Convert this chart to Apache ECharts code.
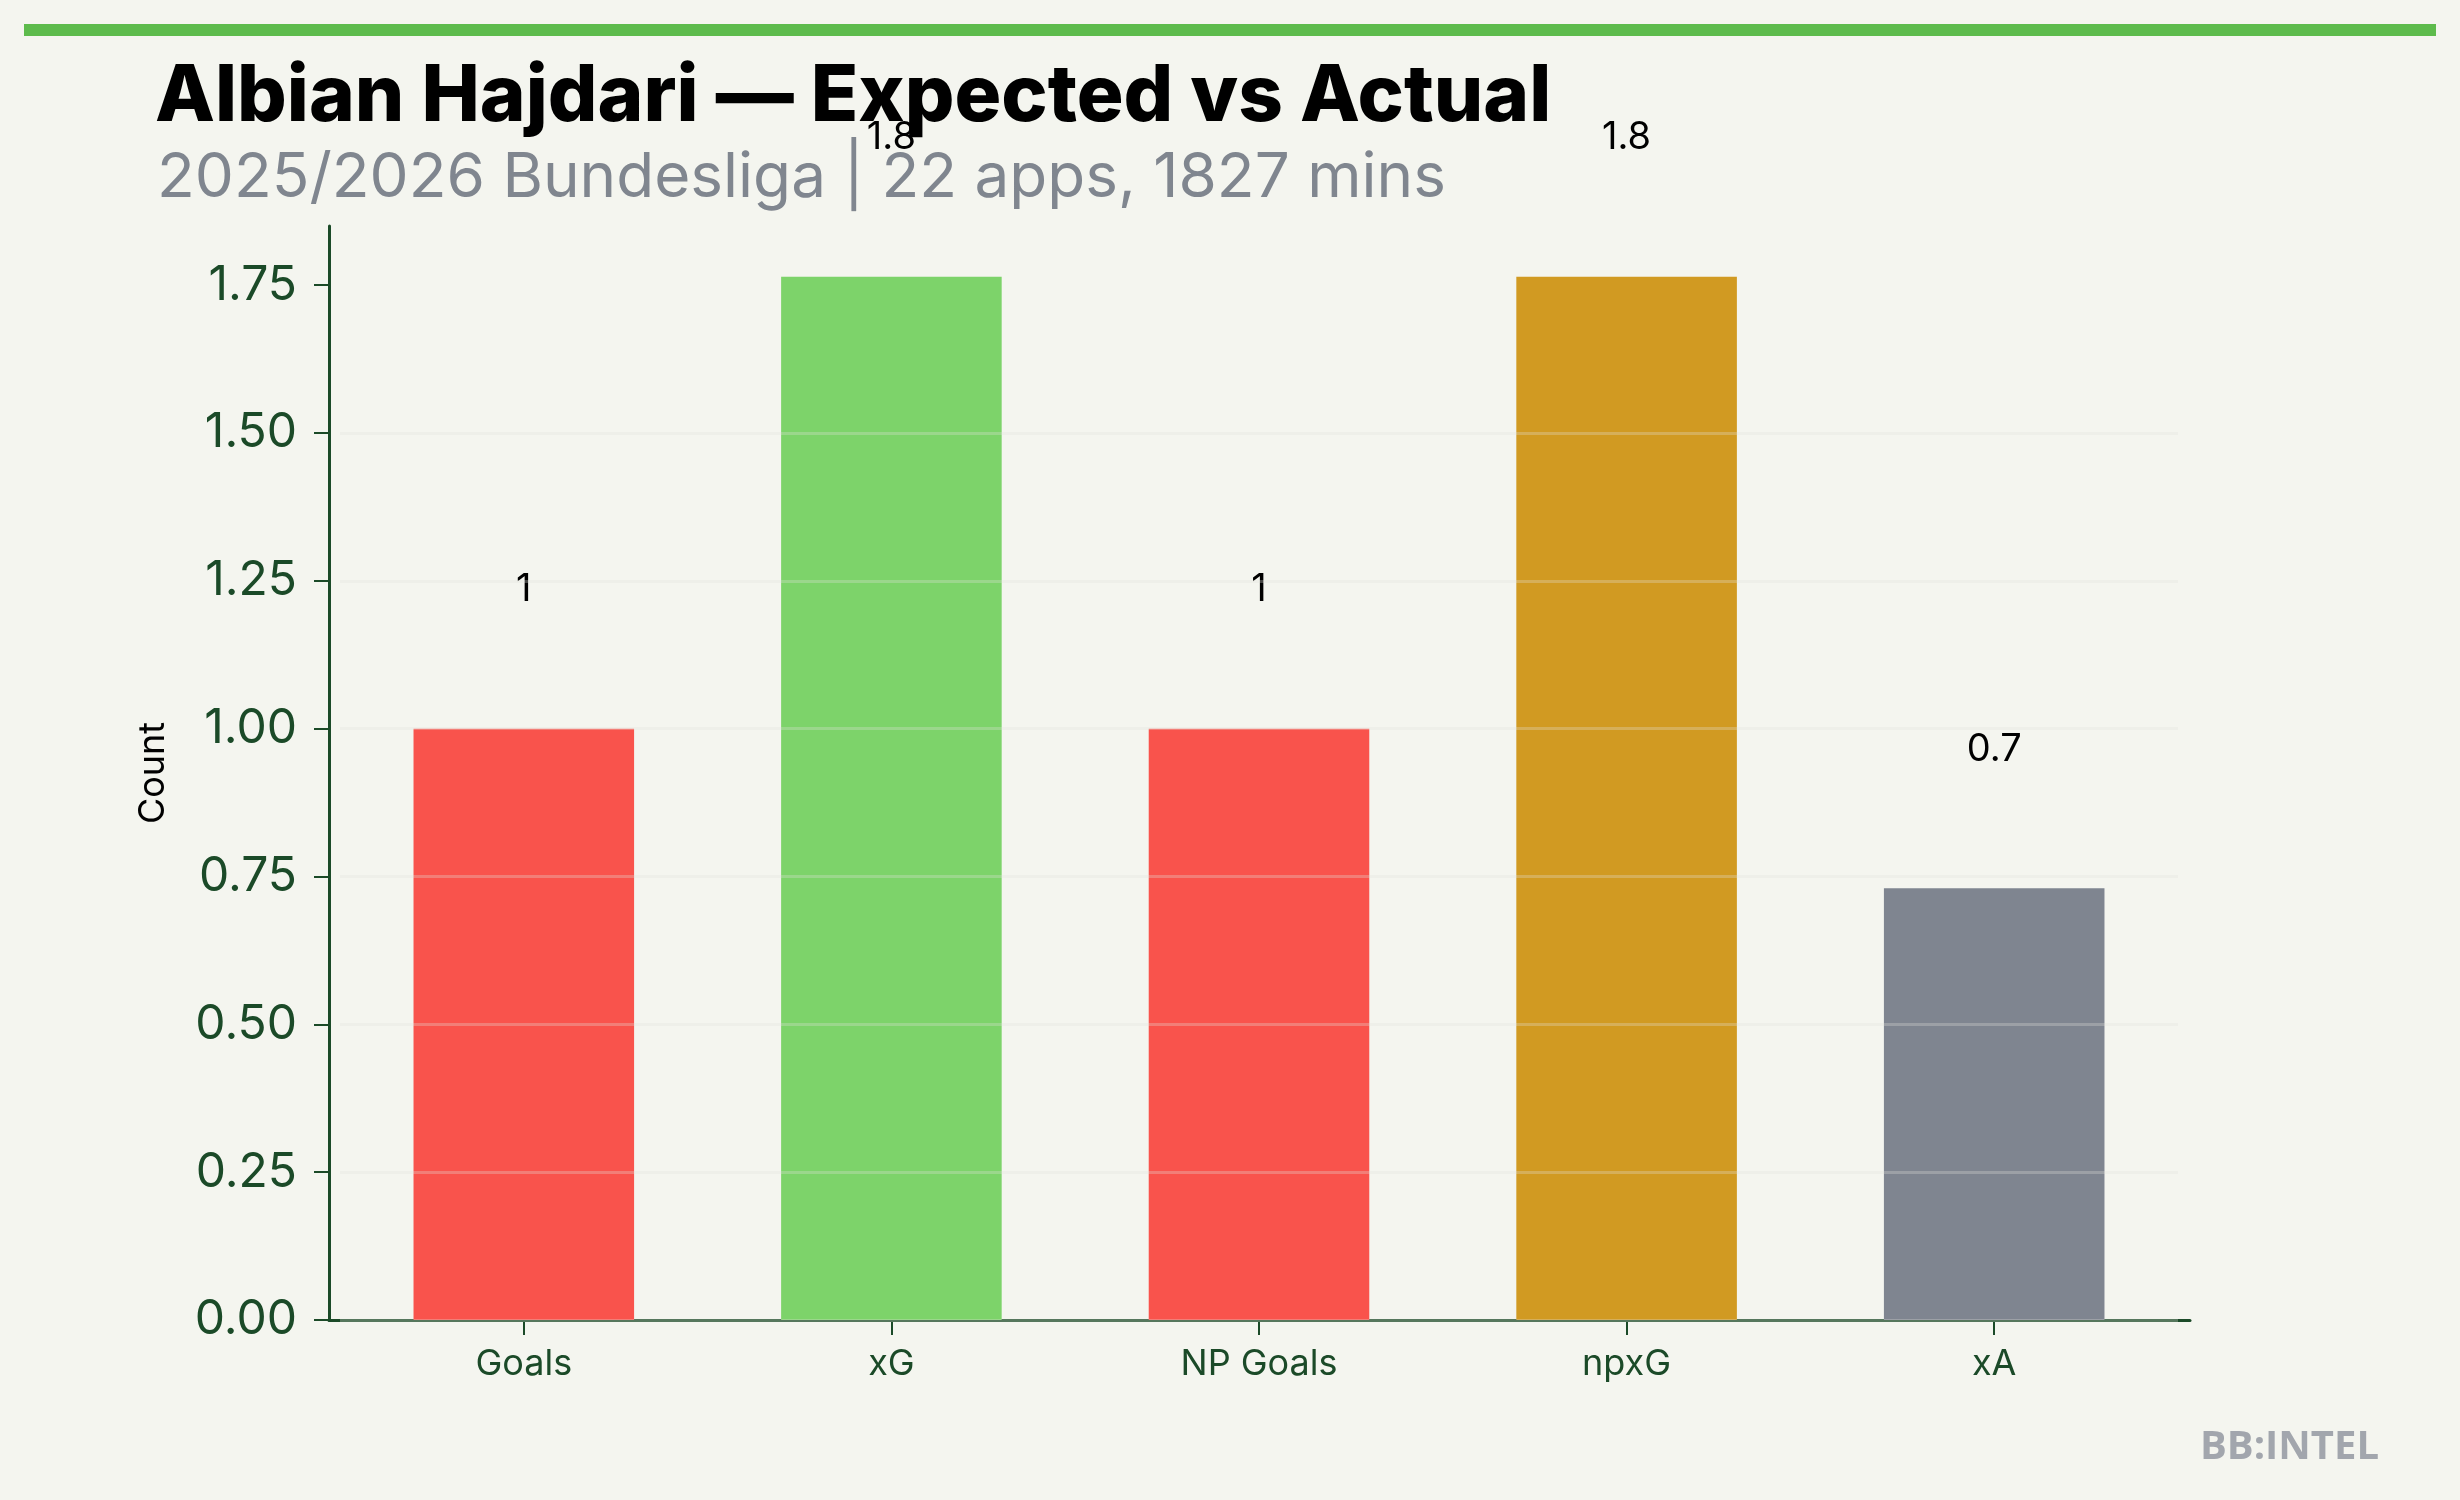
<!DOCTYPE html>
<html>
<head>
<meta charset="utf-8">
<style>
  html, body { margin: 0; padding: 0; background: #F4F5EF; }
  #chart { width: 2460px; height: 1500px; }
</style>
<script src="https://cdn.jsdelivr.net/npm/echarts@6/dist/echarts.min.js"></script>
</head>
<body>
<div id="chart"></div>
<script>
const categories = ['Goals', 'xG', 'NP Goals', 'npxG', 'xA'];
const values = [1, 1.764, 1, 1.764, 0.73];
const valueLabels = ['1', '1.8', '1', '1.8', '0.7'];
const barColors = ['#F9534C', '#7DD36A', '#F9534C', '#D19A22', '#7F8590'];
const yTicks = [0, 0.25, 0.5, 0.75, 1.0, 1.25, 1.5, 1.75];
const yTickLabels = ['0.00', '0.25', '0.50', '0.75', '1.00', '1.25', '1.50', '1.75'];
const titleText = 'Albian Hajdari — Expected vs Actual';
const subtitleText = '2025/2026 Bundesliga | 22 apps, 1827 mins';
const yAxisName = 'Count';
const watermark = 'BB:INTEL';

const axisColor = '#1B4A28';
const chart = echarts.init(document.getElementById('chart'), null, { renderer: 'canvas' });

chart.setOption({
  backgroundColor: '#F4F5EF',
  animation: false,
  title: [
    {
      text: titleText,
      left: 150, top: 50,
      textStyle: { fontFamily: 'Inter', fontWeight: 800, fontSize: 78, color: '#000000', lineHeight: 86 }
    },
    {
      text: subtitleText,
      left: 152, top: 138,
      textStyle: { fontFamily: 'Inter', fontWeight: 400, fontSize: 62, color: '#80868F', lineHeight: 70 }
    }
  ],
  graphic: [
    { type: 'rect', shape: { x: 24, y: 24, width: 2412, height: 12 }, style: { fill: '#5DBB4C' }, silent: true },
    {
      type: 'text', x: 2379, y: 1448,
      style: { text: watermark, fontFamily: 'Open Sans', fontWeight: 700, fontSize: 40, fill: '#A2A6AD', align: 'right', verticalAlign: 'middle' }
    }
  ],
  grid: [
    { left: 340, right: 282, top: 226, bottom: 180, containLabel: false },
    { left: 329, right: 270, top: 226, bottom: 180, containLabel: false }
  ],
  xAxis: [
    {
      type: 'category',
      gridIndex: 0,
      data: categories,
      boundaryGap: true,
      axisLine: { show: false },
      axisTick: { show: true, alignWithLabel: true, length: 15, lineStyle: { color: axisColor, width: 2 } },
      axisLabel: { color: axisColor, fontFamily: 'Inter', fontSize: 36, margin: 26 },
      splitLine: { show: false }
    },
    {
      type: 'value',
      gridIndex: 1,
      min: 0, max: 1,
      axisLine: { show: true, lineStyle: { color: axisColor, width: 3 } },
      axisTick: { show: false },
      axisLabel: { show: false },
      splitLine: { show: false }
    }
  ],
  yAxis: [
    {
      type: 'value',
      gridIndex: 0,
      min: 0, max: 1.85, interval: 0.25,
      offset: 11,
      z: 5,
      name: yAxisName,
      nameLocation: 'middle',
      nameRotate: 90,
      nameGap: 158,
      nameTextStyle: { color: '#000000', fontFamily: 'Inter', fontSize: 36 },
      axisLine: { show: true, lineStyle: { color: axisColor, width: 3 } },
      axisTick: { show: true, length: 15, customValues: yTicks, lineStyle: { color: axisColor, width: 2 } },
      axisLabel: {
        color: axisColor, fontFamily: 'Inter', fontSize: 48, margin: 32,
        customValues: yTicks,
        formatter: function (v) { const i = yTicks.indexOf(v); return i >= 0 ? yTickLabels[i] : ''; }
      },
      splitLine: { show: true, showMaxLine: false, lineStyle: { color: 'rgba(225,225,218,0.3)', width: 3 } }
    },
    {
      type: 'value',
      gridIndex: 1,
      show: false,
      min: 0, max: 1
    }
  ],
  series: [{
    type: 'bar',
    xAxisIndex: 0,
    yAxisIndex: 0,
    barWidth: '60%',
    data: values.map(function (v, i) { return { value: v, itemStyle: { color: barColors[i] } }; }),
    label: {
      show: true,
      position: 'top',
      distance: 120,
      color: '#000000',
      fontFamily: 'Inter',
      fontSize: 38,
      formatter: function (p) { return valueLabels[p.dataIndex]; }
    }
  }]
});
</script>
</body>
</html>
